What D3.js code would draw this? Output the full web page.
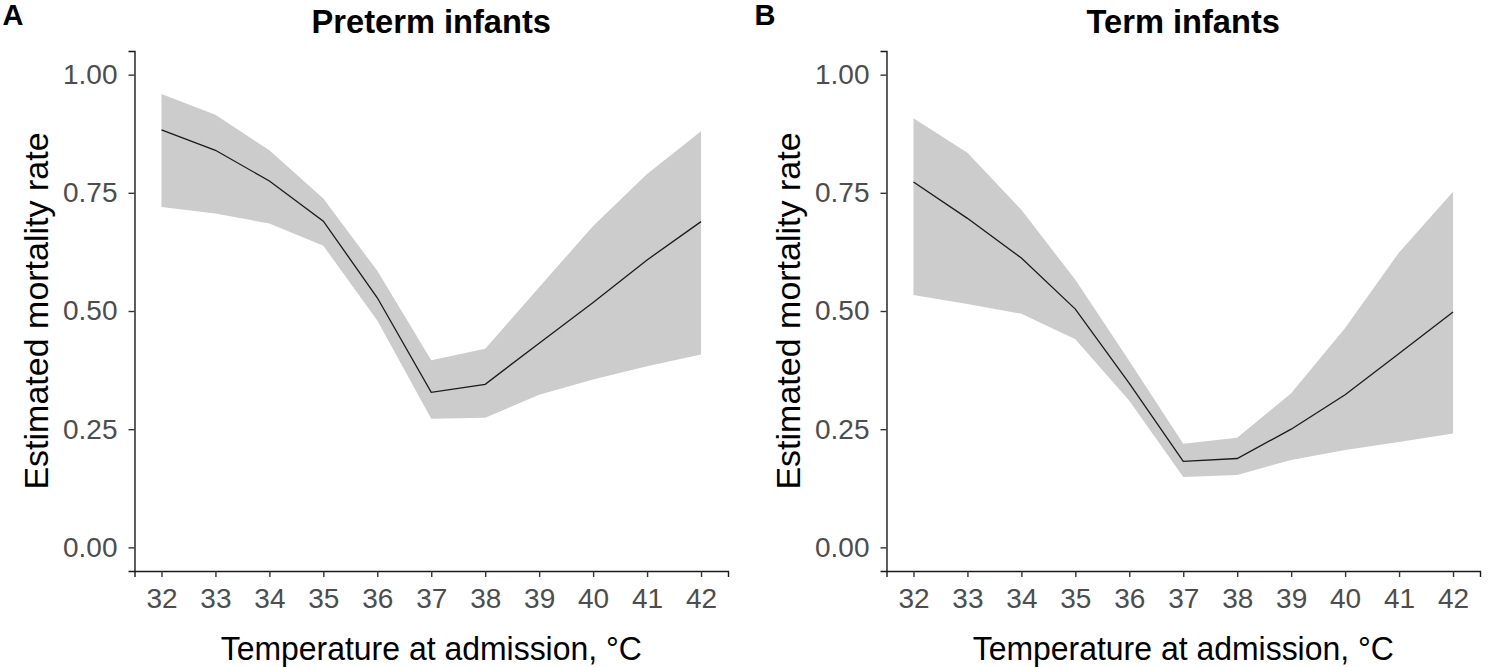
<!DOCTYPE html>
<html><head><meta charset="utf-8">
<script src="https://cdn.jsdelivr.net/npm/d3@7"></script>
<style>body{margin:0;background:#fff}svg{display:block}</style>
</head><body><svg id="c" width="1499" height="667"></svg>
<script>
const temps = [32,33,34,35,36,37,38,39,40,41,42];
const xTicks = [32,33,34,35,36,37,38,39,40,41,42];
const yTicks = [0,0.25,0.5,0.75,1];
const pretermEst   = [0.883,0.840,0.775,0.690,0.528,0.328,0.345,0.432,0.518,0.608,0.689];
const pretermLower = [0.720,0.706,0.685,0.638,0.480,0.272,0.274,0.323,0.355,0.383,0.408];
const pretermUpper = [0.959,0.915,0.840,0.738,0.585,0.396,0.420,0.550,0.680,0.790,0.880];
const termEst   = [0.773,0.696,0.612,0.504,0.347,0.182,0.188,0.250,0.323,0.410,0.498];
const termLower = [0.534,0.515,0.494,0.440,0.310,0.149,0.153,0.185,0.206,0.223,0.241];
const termUpper = [0.908,0.835,0.714,0.566,0.394,0.219,0.232,0.326,0.464,0.624,0.752];
const panels = [
  {letter:"A", title:"Preterm infants", est:pretermEst, lo:pretermLower, hi:pretermUpper, left:134.5, right:728},
  {letter:"B", title:"Term infants", est:termEst, lo:termLower, hi:termUpper, left:886.5, right:1480}
];
const svg = d3.select("#c");
const plotTop = 51, plotBottom = 571;
const font = "Liberation Sans, Arial, sans-serif";
panels.forEach((p,pi)=>{
  const x = d3.scaleLinear().domain([31.5,42.5]).range([p.left,p.right]);
  const y = d3.scaleLinear().domain([-0.05,1.05]).range([plotBottom,plotTop]);
  const g = svg.append("g");
  const rows = temps.map((t,i)=>({t, e:p.est[i], l:p.lo[i], h:p.hi[i]}));
  g.append("path").datum(rows).attr("fill","#cccccc")
    .attr("d", d3.area().x(d=>x(d.t)).y0(d=>y(d.l)).y1(d=>y(d.h)));
  g.append("path").datum(rows).attr("fill","none").attr("stroke","#1a1a1a").attr("stroke-width",1.3)
    .attr("d", d3.line().x(d=>x(d.t)).y(d=>y(d.e)));
  const xa = g.append("g").attr("transform",`translate(0,${plotBottom})`)
    .call(d3.axisBottom(x).tickValues(xTicks).tickFormat(d3.format("d")).tickSizeOuter(0).tickSize(6).tickPadding(11));
  const ya = g.append("g").attr("transform",`translate(${p.left},0)`)
    .call(d3.axisLeft(y).tickValues(yTicks).tickFormat(d3.format(".2f")).tickSizeOuter(0).tickSize(6).tickPadding(11));
  [xa,ya].forEach(a=>{
    a.select(".domain").attr("stroke","#1a1a1a").attr("stroke-width",1.4);
    a.selectAll(".tick line").attr("stroke","#333").attr("stroke-width",1.4);
    a.selectAll(".tick text").attr("fill","#4d4d4d").style("font-family",font).style("font-size","28px");
  });
  const cx = (p.left+p.right)/2;
  g.append("text").attr("transform",`translate(${cx},33) scale(0.96,1)`).attr("text-anchor","middle")
    .style("font-family",font).style("font-size","34px").style("font-weight","bold").text(p.title);
  g.append("text").attr("x",p.left-132).attr("y",25).attr("text-anchor","start")
    .style("font-family",font).style("font-size","29px").style("font-weight","bold").text(p.letter);
  g.append("text").attr("transform",`translate(${cx},660) scale(0.94,1)`).attr("text-anchor","middle")
    .style("font-family",font).style("font-size","34px").text("Temperature at admission, °C");
  g.append("text").attr("transform",`translate(${p.left-87},${(plotTop+plotBottom)/2}) rotate(-90)`).attr("text-anchor","middle")
    .style("font-family",font).style("font-size","34px").text("Estimated mortality rate");
});
</script></body></html>
